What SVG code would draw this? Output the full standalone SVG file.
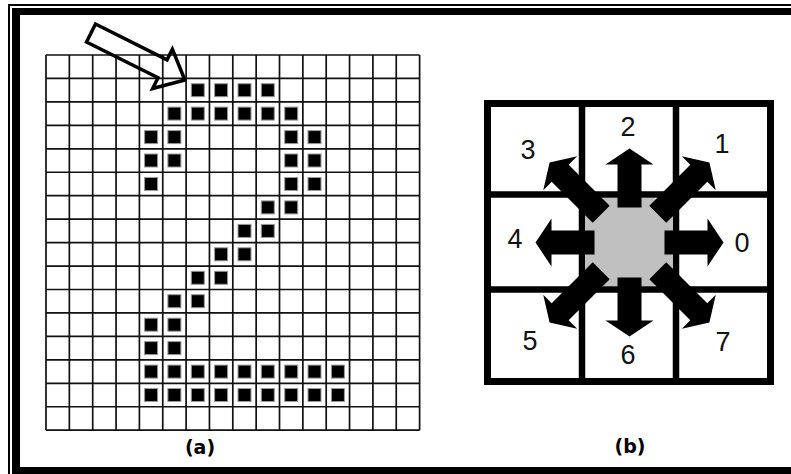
<svg xmlns="http://www.w3.org/2000/svg" xmlns:xlink="http://www.w3.org/1999/xlink" width="791" height="474" viewBox="0 0 791 474">
<style>
.grid{fill:none;stroke:#111;stroke-width:1.7}
.sq{fill:#000;stroke:#999;stroke-width:1}
.digit{font-family:"Liberation Sans",Arial,sans-serif;font-size:27px;fill:#111;text-anchor:middle}
.cap{font-family:"DejaVu Sans",Verdana,sans-serif;font-weight:bold;font-size:19px;fill:#000;text-anchor:middle}
.pl{fill:none;stroke:#000;stroke-width:7}
.arr{fill:#000}
</style>
<defs>
<rect id="sq" class="sq" width="13" height="13"/>
<path id="sa" d="M35,-12 H78 V-24 L94,0 L78,24 V12 H35 Z"/>
<path id="da" d="M40,-12 H98 V-24 L113,0 L98,24 V12 H40 Z"/>
</defs>
<rect width="791" height="474" fill="#fff"/>
<g id="frame">
<path d="M9 474 V5 H791" fill="none" stroke="#000" stroke-width="2"/>
<rect x="12" y="8" width="8" height="466" fill="#000"/>
<rect x="12" y="8" width="779" height="7" fill="#000"/>
<rect x="12" y="467" width="779" height="7" fill="#000"/>
</g>
<g id="panel-a">
<path class="grid" d="M46 55 V430.2 M69.35 55 V430.2 M92.7 55 V430.2 M116.05 55 V430.2 M139.4 55 V430.2 M162.75 55 V430.2 M186.1 55 V430.2 M209.45 55 V430.2 M232.8 55 V430.2 M256.15 55 V430.2 M279.5 55 V430.2 M302.85 55 V430.2 M326.2 55 V430.2 M349.55 55 V430.2 M372.9 55 V430.2 M396.25 55 V430.2 M419.6 55 V430.2 M46 55 H419.6 M46 78.45 H419.6 M46 101.9 H419.6 M46 125.35 H419.6 M46 148.8 H419.6 M46 172.25 H419.6 M46 195.7 H419.6 M46 219.15 H419.6 M46 242.6 H419.6 M46 266.05 H419.6 M46 289.5 H419.6 M46 312.95 H419.6 M46 336.4 H419.6 M46 359.85 H419.6 M46 383.3 H419.6 M46 406.75 H419.6 M46 430.2 H419.6"/>
<g id="pixels">
<use href="#sq" x="191.3" y="83.7"/><use href="#sq" x="214.6" y="83.7"/><use href="#sq" x="238" y="83.7"/><use href="#sq" x="261.3" y="83.7"/>
<use href="#sq" x="167.9" y="107.1"/><use href="#sq" x="191.3" y="107.1"/><use href="#sq" x="214.6" y="107.1"/><use href="#sq" x="238" y="107.1"/><use href="#sq" x="261.3" y="107.1"/><use href="#sq" x="284.7" y="107.1"/>
<use href="#sq" x="144.6" y="130.6"/><use href="#sq" x="167.9" y="130.6"/><use href="#sq" x="284.7" y="130.6"/><use href="#sq" x="308" y="130.6"/>
<use href="#sq" x="144.6" y="154"/><use href="#sq" x="167.9" y="154"/><use href="#sq" x="284.7" y="154"/><use href="#sq" x="308" y="154"/>
<use href="#sq" x="144.6" y="177.5"/><use href="#sq" x="284.7" y="177.5"/><use href="#sq" x="308" y="177.5"/>
<use href="#sq" x="261.3" y="200.9"/><use href="#sq" x="284.7" y="200.9"/>
<use href="#sq" x="238" y="224.4"/><use href="#sq" x="261.3" y="224.4"/>
<use href="#sq" x="214.6" y="247.8"/><use href="#sq" x="238" y="247.8"/>
<use href="#sq" x="191.3" y="271.3"/><use href="#sq" x="214.6" y="271.3"/>
<use href="#sq" x="167.9" y="294.7"/><use href="#sq" x="191.3" y="294.7"/>
<use href="#sq" x="144.6" y="318.2"/><use href="#sq" x="167.9" y="318.2"/>
<use href="#sq" x="144.6" y="341.6"/><use href="#sq" x="167.9" y="341.6"/>
<use href="#sq" x="144.6" y="365.1"/><use href="#sq" x="167.9" y="365.1"/><use href="#sq" x="191.3" y="365.1"/><use href="#sq" x="214.6" y="365.1"/><use href="#sq" x="238" y="365.1"/><use href="#sq" x="261.3" y="365.1"/><use href="#sq" x="284.7" y="365.1"/><use href="#sq" x="308" y="365.1"/><use href="#sq" x="331.4" y="365.1"/>
<use href="#sq" x="144.6" y="388.5"/><use href="#sq" x="167.9" y="388.5"/><use href="#sq" x="191.3" y="388.5"/><use href="#sq" x="214.6" y="388.5"/><use href="#sq" x="238" y="388.5"/><use href="#sq" x="261.3" y="388.5"/><use href="#sq" x="284.7" y="388.5"/><use href="#sq" x="308" y="388.5"/><use href="#sq" x="331.4" y="388.5"/>
</g>
<g id="start-arrow">
<path d="M0,-10 H80 V-22 L105,0 L80,22 V10 H0 Z" transform="translate(91,33) rotate(26.6)" fill="none" stroke="#000" stroke-width="3.5" stroke-linejoin="miter"/>
</g>
<text class="cap" x="200" y="454">(a)</text>
</g>
<g id="panel-b">
<g id="cells">
<rect class="pl" x="487.5" y="103.5" width="283" height="278"/>
<path class="pl" d="M582 103.5 V381.5 M676 103.5 V381.5 M487.5 194.5 H770.5 M487.5 289.5 H770.5" style="stroke-width:6.5"/>
</g>
<g id="center">
<polygon points="604,198 654,198 673,217 673,267 654,286 604,286 585,267 585,217" fill="#c0c0c0"/>
</g>
<g id="connectors" class="arr">
<use href="#sa" transform="translate(629.5,242.5)"/>
<use href="#da" transform="translate(629.5,242.5) rotate(-45)"/>
<use href="#sa" transform="translate(629.5,242.5) rotate(-90)"/>
<use href="#da" transform="translate(629.5,242.5) rotate(-135)"/>
<use href="#sa" transform="translate(629.5,242.5) rotate(180)"/>
<use href="#da" transform="translate(629.5,242.5) rotate(135)"/>
<use href="#sa" transform="translate(629.5,242.5) rotate(90)"/>
<use href="#da" transform="translate(629.5,242.5) rotate(45)"/>
</g>
<g id="labels">
<text class="digit" x="742" y="252">0</text>
<text class="digit" x="722" y="153">1</text>
<text class="digit" x="628" y="136">2</text>
<text class="digit" x="528" y="159">3</text>
<text class="digit" x="515" y="248">4</text>
<text class="digit" x="530" y="350">5</text>
<text class="digit" x="628" y="364">6</text>
<text class="digit" x="723" y="351">7</text>
</g>
<text class="cap" x="630" y="453">(b)</text>
</g>
</svg>
